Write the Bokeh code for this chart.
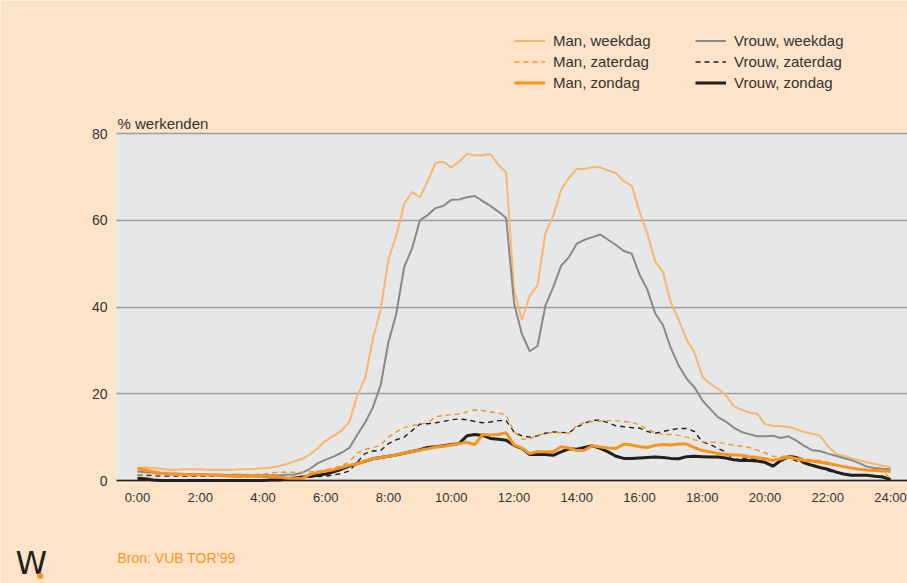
from bokeh.plotting import figure
from bokeh.models import (FixedTicker, Legend, LegendItem, Label, ColumnDataSource,
                          BoxAnnotation)
from bokeh.embed import file_html
from bokeh.resources import INLINE

# time grid (hours, quarter-hour steps)
hours = [i / 4 for i in range(97)]

man_weekdag = [3.0,
    3.0, 2.9, 2.7, 2.5,   2.5, 2.6, 2.6, 2.6,   2.5, 2.5, 2.5, 2.5,   2.6, 2.6, 2.7, 2.8,
    3.0, 3.3, 3.8, 4.4,   5.0, 6.0, 7.5, 9.2,   10.3, 11.5, 13.5, 19.5,   23.5, 32.5, 39.5, 51.0,
    56.5, 63.8, 66.5, 65.3,   69.0, 73.2, 73.5, 72.2,   73.5, 75.3, 75.0, 75.0,   75.2, 72.8, 71.0, 44.0,
    37.0, 42.5, 45.0, 57.0,   61.0, 67.0, 69.8, 71.8,   71.8, 72.2, 72.2, 71.5,   70.9, 69.0, 68.0, 62.0,
    56.9, 50.5, 48.0, 41.0,   37.0, 32.5, 29.5, 24.0,   22.3, 21.2, 19.7, 17.2,   16.3, 15.7, 15.4, 13.0,
    12.6, 12.5, 12.4, 11.8,   11.2, 10.8, 10.3, 8.0,   6.2, 5.7, 5.2, 4.7,   4.2, 3.8, 3.4, 3.1]

vrouw_weekdag = [2.1,
    1.9, 1.8, 1.7, 1.6,   1.6, 1.5, 1.5, 1.5,   1.4, 1.4, 1.3, 1.3,   1.3, 1.2, 1.2, 1.2,
    1.2, 1.2, 1.3, 1.4,   1.8, 2.7, 4.0, 4.8,   5.5, 6.4, 7.5, 10.5,   13.3, 16.8, 22.0, 32.0,
    38.5, 49.2, 53.5, 60.0,   61.2, 62.8, 63.3, 64.7,   64.8, 65.3, 65.6, 64.4,   63.3, 62.0, 60.5, 41.0,
    33.8, 29.8, 31.0, 40.3,   44.6, 49.5, 51.5, 54.6,   55.5, 56.1, 56.7, 55.5,   54.3, 52.9, 52.3, 47.5,
    44.0, 38.5, 35.8, 30.5,   26.5, 23.5, 21.5, 18.5,   16.5, 14.6, 13.6, 12.2,   11.2, 10.7, 10.2, 10.2,
    10.3, 9.8, 10.2, 9.2,   8.0, 7.0, 6.8, 6.2,   5.7, 5.2, 4.7, 4.0,   3.2, 2.9, 2.7, 2.6]

man_zaterdag = [1.3,
    1.4, 1.4, 1.4, 1.3,   1.3, 1.2, 1.2, 1.2,   1.2, 1.3, 1.3, 1.3,   1.4, 1.4, 1.4, 1.5,
    1.7, 1.9, 1.9, 1.9,   1.9, 2.0, 2.1, 2.5,   2.9, 3.4, 4.3, 6.3,   7.2, 7.5, 8.2, 10.0,
    11.2, 12.2, 12.6, 13.0,   13.3, 14.7, 15.0, 15.2,   15.4, 15.8, 16.3, 16.1,   15.8, 15.6, 15.1, 11.3,
    9.5, 9.6, 10.4, 10.8,   11.1, 11.0, 10.9, 12.6,   13.4, 13.6, 13.7, 13.8,   13.8, 13.6, 13.4, 12.8,
    11.8, 11.0, 10.6, 10.6,   10.4, 10.0, 9.4, 8.9,   8.8, 8.8, 8.5, 8.1,   7.9, 7.6, 7.0, 6.4,
    5.6, 5.5, 5.8, 5.6,   5.0, 4.7, 4.6, 4.2,   3.6, 3.2, 2.8, 2.6,   2.4, 2.3, 2.2, 0.4]

vrouw_zaterdag = [1.3,
    1.2, 1.1, 1.0, 1.0,   1.0, 1.0, 1.0, 1.0,   1.0, 1.0, 1.0, 1.0,   0.9, 0.9, 0.9, 0.9,
    0.8, 0.7, 0.7, 0.7,   0.8, 0.8, 0.9, 1.0,   1.3, 1.6, 2.2, 4.2,   6.2, 6.8, 6.9, 8.5,
    9.4, 10.0, 11.5, 13.0,   13.1, 13.3, 13.6, 14.0,   14.2, 14.0, 13.6, 13.3,   13.5, 13.8, 13.8, 11.2,
    10.3, 10.0, 10.3, 10.9,   11.2, 11.1, 11.0, 12.3,   13.2, 13.9, 13.9, 13.3,   12.6, 12.4, 12.2, 12.1,
    11.3, 10.9, 11.3, 11.7,   12.0, 12.0, 11.3, 8.9,   8.3, 7.4, 6.6, 4.7,   5.1, 5.2, 4.7, 4.2,
    3.6, 4.6, 5.3, 4.5,   4.0, 3.6, 3.0, 2.3,   1.8, 1.5, 1.3, 1.2,   1.2, 1.1, 1.0, 0.4]

man_zondag = [2.7,
    2.5, 2.0, 1.7, 1.5,   1.4, 1.4, 1.3, 1.3,   1.3, 1.2, 1.1, 1.0,   1.0, 1.0, 1.0, 0.9,
    0.9, 0.8, 0.5, 0.4,   0.5, 1.4, 1.9, 2.2,   2.5, 3.0, 3.5, 3.8,   4.5, 5.0, 5.3, 5.6,
    5.9, 6.3, 6.7, 7.0,   7.3, 7.7, 7.9, 8.2,   8.5, 8.8, 8.3, 10.6,   10.5, 10.6, 11.0, 8.2,
    7.5, 6.2, 6.7, 6.6,   6.6, 7.8, 7.5, 6.9,   7.0, 8.0, 7.7, 7.5,   7.4, 8.4, 8.2, 7.8,
    7.6, 8.1, 8.3, 8.2,   8.4, 8.4, 7.6, 6.9,   6.6, 6.2, 6.0, 5.9,   5.8, 5.5, 5.3, 5.0,
    4.6, 5.0, 5.4, 5.0,   4.6, 4.5, 4.2, 3.9,   3.6, 3.2, 2.9, 2.6,   2.4, 2.3, 2.2, 2.1]

vrouw_zondag = [0.5,
    0.4, 0.1, 0.0, 0.0,   0.0, 0.0, 0.0, 0.0,   0.0, 0.0, 0.0, 0.0,   0.0, 0.0, 0.0, 0.0,
    0.1, 0.1, 0.3, 0.5,   0.8, 1.0, 1.2, 1.5,   2.0, 2.6, 3.3, 3.9,   4.4, 5.0, 5.3, 5.6,
    5.9, 6.3, 6.7, 7.1,   7.6, 7.8, 8.0, 8.3,   8.5, 10.3, 10.6, 10.4,   9.7, 9.5, 9.3, 8.1,
    7.4, 6.0, 6.0, 6.0,   5.8, 6.6, 7.3, 7.2,   7.6, 8.0, 7.4, 6.6,   5.6, 5.1, 5.1, 5.2,
    5.3, 5.4, 5.3, 5.1,   5.0, 5.5, 5.6, 5.5,   5.4, 5.4, 5.2, 4.8,   4.6, 4.6, 4.5, 4.2,
    3.3, 4.6, 5.5, 5.3,   4.1, 3.5, 3.0, 2.6,   2.0, 1.5, 1.2, 1.2,   1.2, 1.0, 0.8, 0.2]

x_ticks = [0, 2, 4, 6, 8, 10, 12, 14, 16, 18, 20, 22, 24]
x_tick_labels = ["0:00", "2:00", "4:00", "6:00", "8:00", "10:00", "12:00",
                 "14:00", "16:00", "18:00", "20:00", "22:00", "24:00"]
y_ticks = [0, 20, 40, 60, 80]

series_names = ["Man, weekdag", "Man, zaterdag", "Man, zondag",
                "Vrouw, weekdag", "Vrouw, zaterdag", "Vrouw, zondag"]

FONT = "Liberation Sans"
PEACH = "#FDE4C8"
PLOT_BG = "#E6E7E8"
ORANGE = "#F7941D"
LIGHT_ORANGE = "#FDB56C"
GREY = "#88898B"
BLACK = "#231F20"
TEXT = "#333333"

X_START, X_END = -4.3665, 24.5418    # whole canvas (907 px)
Y_START, Y_END = -23.746, 110.663    # whole canvas (583 px)
PLOT_LEFT = -0.6693                  # left edge of the grey plot area

src = ColumnDataSource(dict(h=hours, mw=man_weekdag, vw=vrouw_weekdag,
                            mza=man_zaterdag, vza=vrouw_zaterdag,
                            mzo=man_zondag, vzo=vrouw_zondag))

p = figure(width=907, height=583, x_range=(X_START, X_END), y_range=(Y_START, Y_END),
           output_backend="svg", toolbar_location=None,
           min_border_left=0, min_border_right=0,
           min_border_top=0, min_border_bottom=0)
p.background_fill_color = PEACH
p.border_fill_color = PEACH
p.outline_line_color = None

# grey plot area
p.add_layout(BoxAnnotation(left=PLOT_LEFT, right=X_END + 5, bottom=0, top=80,
                           fill_color=PLOT_BG, fill_alpha=1.0, line_color=None,
                           level="image"))

r_mw = p.line("h", "mw", source=src, line_color=LIGHT_ORANGE, line_width=2)
r_vw = p.line("h", "vw", source=src, line_color=GREY, line_width=2)
r_vza = p.line("h", "vza", source=src, line_color=BLACK, line_width=1.4, line_dash="5 4")
r_mza = p.line("h", "mza", source=src, line_color=ORANGE, line_width=1.4, line_dash="5 4")
r_vzo = p.line("h", "vzo", source=src, line_color=BLACK, line_width=3)
r_mzo = p.line("h", "mzo", source=src, line_color=ORANGE, line_width=3)

# axes drawn at fixed data positions
xa = p.xaxis[0]
xa.fixed_location = 0
xa.bounds = (PLOT_LEFT, X_END + 5)
xa.ticker = FixedTicker(ticks=x_ticks)
xa.major_label_overrides = {t: lab for t, lab in zip(x_ticks, x_tick_labels)}
xa.axis_line_color = BLACK
xa.axis_line_width = 1.5
xa.major_tick_line_color = None
xa.minor_tick_line_color = None
xa.major_tick_out = 0
xa.major_tick_in = 0
xa.major_label_standoff = 9
xa.major_label_text_font = FONT
xa.major_label_text_font_size = "13px"
xa.major_label_text_color = TEXT

ya = p.yaxis[0]
ya.fixed_location = PLOT_LEFT
ya.bounds = (0, 80)
ya.ticker = FixedTicker(ticks=y_ticks)
ya.axis_line_color = None
ya.major_tick_line_color = None
ya.minor_tick_line_color = None
ya.major_tick_out = 0
ya.major_tick_in = 0
ya.major_label_standoff = 9
ya.major_label_text_font = FONT
ya.major_label_text_font_size = "14px"
ya.major_label_text_color = TEXT

p.xgrid.visible = False
p.ygrid.ticker = FixedTicker(ticks=y_ticks)
p.ygrid.cross_bounds = (PLOT_LEFT, X_END + 5)
p.ygrid.grid_line_color = "#9C9D9F"
p.ygrid.grid_line_width = 1.5

# legends (two columns)
def make_legend(items, x):
    return Legend(items=items, location=(x, 490), orientation="vertical",
                  glyph_width=31, glyph_height=21, label_height=21,
                  label_standoff=8, spacing=0, padding=0, margin=0,
                  border_line_color=None, background_fill_alpha=0,
                  label_text_font=FONT, label_text_font_size="15px",
                  label_text_color=TEXT)

leg1 = make_legend([LegendItem(label=series_names[0], renderers=[r_mw]),
                    LegendItem(label=series_names[1], renderers=[r_mza]),
                    LegendItem(label=series_names[2], renderers=[r_mzo])], 514)
leg2 = make_legend([LegendItem(label=series_names[3], renderers=[r_vw]),
                    LegendItem(label=series_names[4], renderers=[r_vza]),
                    LegendItem(label=series_names[5], renderers=[r_vzo])], 695)
p.add_layout(leg1)
p.add_layout(leg2)

# texts
p.add_layout(Label(x=-0.637, y=82.2, text="% werkenden", text_font=FONT,
                   text_font_size="15px", text_color=TEXT,
                   text_baseline="alphabetic"))
p.add_layout(Label(x=-0.637, y=-17.8, text="Bron: VUB TOR\u201999", text_font=FONT,
                   text_font_size="14px", text_color=ORANGE,
                   text_baseline="alphabetic"))
# logo
p.add_layout(Label(x=-3.888, y=-19.0, text="W", text_font="DejaVu Sans",
                   text_font_size="32px", text_color=BLACK,
                   text_baseline="alphabetic"))
p.add_layout(Label(x=-3.09, y=-21.9, text="\u25CF", text_font="DejaVu Sans",
                   text_font_size="8px", text_color=ORANGE, text_align="center",
                   text_baseline="middle"))

open("out.html", "w").write(file_html(p, INLINE))
